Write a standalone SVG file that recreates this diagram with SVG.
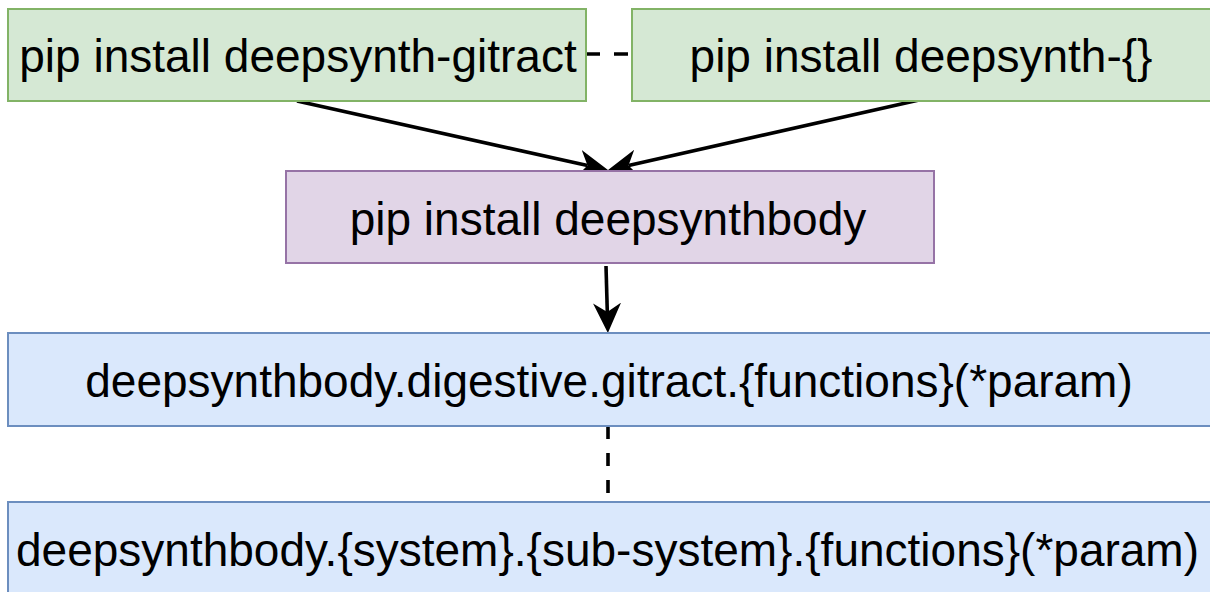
<svg xmlns="http://www.w3.org/2000/svg" width="1210" height="592" viewBox="0 0 1210 592">
  <style>
    .box { stroke-width: 2; }
    .green { fill: #d5e8d4; stroke: #82b366; }
    .purple { fill: #e1d5e7; stroke: #9673a6; }
    .blue { fill: #dae8fc; stroke: #6c8ebf; }
    .label { font-family: "Liberation Sans", Arial, sans-serif; font-size: 46px; fill: #000000; text-anchor: middle; }
    .edge { fill: none; stroke: #000000; stroke-width: 3.6; }
    .dashed { stroke-dasharray: 14 14; }
  </style>
  <defs>
    <marker id="arrow" markerUnits="userSpaceOnUse" markerWidth="32" markerHeight="32" refX="9" refY="15" orient="auto">
      <path d="M0,1 L30,15 L0,29 L9,15 Z" fill="#000000"/>
    </marker>
  </defs>

  <rect x="0" y="0" width="1210" height="592" fill="#ffffff"/>

  <!-- connectors -->
  <g id="connectors">
    <line class="edge dashed" x1="586" y1="54" x2="632" y2="54"/>
    <line class="edge" x1="297" y1="101" x2="587.5" y2="165.5" marker-end="url(#arrow)"/>
    <line class="edge" x1="919" y1="100" x2="628.5" y2="165.4" marker-end="url(#arrow)"/>
    <line class="edge" x1="606" y1="266" x2="607.3" y2="312" marker-end="url(#arrow)"/>
    <line class="edge" x1="608" y1="426" x2="608" y2="502" stroke-dasharray="13 14"/>
  </g>

  <!-- nodes -->
  <g id="node-gitract">
    <rect class="box green" x="8" y="9" width="578" height="92"/>
    <text class="label" x="298" y="72">pip install deepsynth-gitract</text>
  </g>
  <g id="node-other">
    <rect class="box green" x="632" y="9" width="580" height="92"/>
    <text class="label" x="921" y="72">pip install deepsynth-{}</text>
  </g>
  <g id="node-body">
    <rect class="box purple" x="286" y="171" width="648" height="92"/>
    <text class="label" x="608" y="235">pip install deepsynthbody</text>
  </g>
  <g id="node-digestive">
    <rect class="box blue" x="8" y="333" width="1206" height="93"/>
    <text class="label" x="609" y="397">deepsynthbody.digestive.gitract.{functions}(*param)</text>
  </g>
  <g id="node-generic">
    <rect class="box blue" x="8" y="502" width="1206" height="94"/>
    <text class="label" x="607.5" y="566">deepsynthbody.{system}.{sub-system}.{functions}(*param)</text>
  </g>
</svg>
